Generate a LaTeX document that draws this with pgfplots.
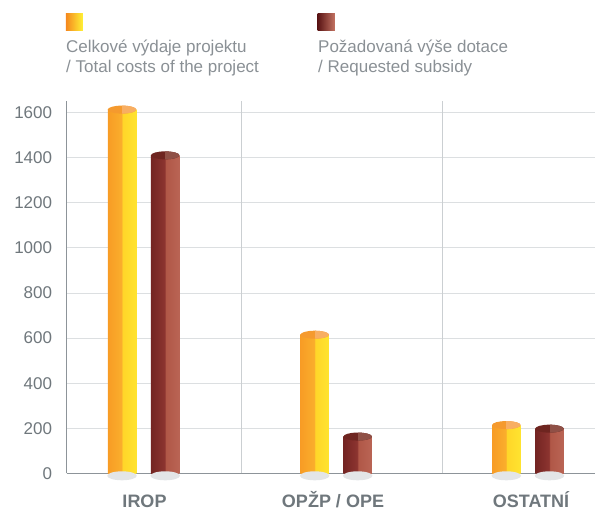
\documentclass[border=0pt]{standalone}
\usepackage{pgfplots}
\pgfplotsset{compat=1.18}
\usepackage{fontspec}
\setmainfont{Liberation Sans}

\definecolor{axisgray}{HTML}{8D9499}
\definecolor{gridgray}{HTML}{DCDFE1}
\definecolor{vgridgray}{HTML}{CBCFD2}
\definecolor{ticktext}{HTML}{6F777C}
\definecolor{legtext}{HTML}{8A9095}
\definecolor{orA}{HTML}{F5891E}
\definecolor{orB}{HTML}{FAAE2C}
\definecolor{orC}{HTML}{FFD629}
\definecolor{orD}{HTML}{FFF236}
\definecolor{mA}{HTML}{5A1414}
\definecolor{mB}{HTML}{8C3430}
\definecolor{mC}{HTML}{B05747}
\definecolor{mD}{HTML}{C47363}
\definecolor{topOL}{HTML}{F59A2E}
\definecolor{topOR}{HTML}{F8AE62}
\definecolor{topML}{HTML}{6E2520}
\definecolor{topMR}{HTML}{8F5046}
\definecolor{basegray}{HTML}{E3E5E7}

\pgfdeclarehorizontalshading{orcyl}{100bp}{color(0bp)=(orA); color(49bp)=(orB); color(51bp)=(orC); color(100bp)=(orD)}
\pgfdeclarehorizontalshading{mcyl}{100bp}{color(0bp)=(mA); color(49bp)=(mB); color(51bp)=(mC); color(100bp)=(mD)}

\pgfdeclareplotmark{toporange}{%
  \pgfpathellipse{\pgfpointorigin}{\pgfqpoint{14.25bp}{0pt}}{\pgfqpoint{0pt}{4bp}}%
  \pgfsetfillcolor{topOL}\pgfusepath{fill}%
  \begin{pgfscope}
    \pgfpathellipse{\pgfpointorigin}{\pgfqpoint{14.25bp}{0pt}}{\pgfqpoint{0pt}{4bp}}\pgfusepath{clip}%
    \pgfpathrectangle{\pgfqpoint{0pt}{-5bp}}{\pgfqpoint{16bp}{10bp}}%
    \pgfsetfillcolor{topOR}\pgfusepath{fill}%
  \end{pgfscope}}
\pgfdeclareplotmark{topmaroon}{%
  \pgfpathellipse{\pgfpointorigin}{\pgfqpoint{14.25bp}{0pt}}{\pgfqpoint{0pt}{4bp}}%
  \pgfsetfillcolor{topML}\pgfusepath{fill}%
  \begin{pgfscope}
    \pgfpathellipse{\pgfpointorigin}{\pgfqpoint{14.25bp}{0pt}}{\pgfqpoint{0pt}{4bp}}\pgfusepath{clip}%
    \pgfpathrectangle{\pgfqpoint{0pt}{-5bp}}{\pgfqpoint{16bp}{10bp}}%
    \pgfsetfillcolor{topMR}\pgfusepath{fill}%
  \end{pgfscope}}
\pgfdeclareplotmark{cylbase}{%
  \pgfpathellipse{\pgfqpoint{0pt}{-2.5bp}}{\pgfqpoint{14.75bp}{0pt}}{\pgfqpoint{0pt}{4.5bp}}%
  \pgfsetfillcolor{basegray}\pgfusepath{fill}}

\begin{document}
\begin{tikzpicture}
\begin{axis}[
  scale only axis,
  width=528.3bp, height=371.8bp,
  xmin=66.7, xmax=595, ymin=0, ymax=1650,
  clip=false,
  axis lines*=left,
  axis line style={draw=axisgray, line width=1.2bp},
  ytick={0,200,...,1600},
  ymajorgrids,
  grid style={draw=gridgray, line width=1bp},
  xtick={144.5,333,531},
  xticklabels={IROP, OPŽP / OPE, OSTATNÍ},
  major tick length=0pt,
  extra x ticks={241.3,442.3},
  extra x tick labels={},
  extra x tick style={grid=major, major grid style={draw=vgridgray, line width=0.8bp}},
  /pgf/number format/assume math mode=true,
  /pgf/number format/1000 sep={},
  yticklabel style={anchor=east, inner sep=0pt, xshift=-14.4bp, font=\fontsize{17bp}{20bp}\selectfont, text=ticktext},
  xticklabel style={anchor=base, inner sep=0pt, yshift=-34bp, font=\fontsize{18bp}{20bp}\selectfont\bfseries, text=ticktext},
  every axis plot/.append style={bar width=28.5bp, bar shift=0pt},
]
% base shadows
\addplot[only marks, mark=cylbase] coordinates {(122.0,0) (314.7,0) (506.3,0) (165.2,0) (357.7,0) (549.5,0)};
% Celkove vydaje projektu
\addplot[ybar, draw=none, shading=orcyl] coordinates {(122.0,1614)};
\addplot[ybar, draw=none, shading=orcyl] coordinates {(314.7,615)};
\addplot[ybar, draw=none, shading=orcyl] coordinates {(506.3,214)};
% Pozadovana vyse dotace
\addplot[ybar, draw=none, shading=mcyl] coordinates {(165.2,1411)};
\addplot[ybar, draw=none, shading=mcyl] coordinates {(357.7,163)};
\addplot[ybar, draw=none, shading=mcyl] coordinates {(549.5,198)};
% cylinder tops
\addplot[only marks, mark=toporange] coordinates {(122.0,1614) (314.7,615) (506.3,214)};
\addplot[only marks, mark=topmaroon] coordinates {(165.2,1411) (357.7,163) (549.5,198)};
\coordinate (O) at (axis cs:0,2100.4);
\end{axis}
\begin{scope}[shift={(O)}, x=1bp, y=-1bp]
  \shade[left color=orA, right color=orD] (66,14) rectangle (83,31);
  \shade[left color=mA, right color=mD] (317.7,14) rectangle (335,31);
  \node[anchor=base west, inner sep=0pt, text=legtext, font=\fontsize{17bp}{20bp}\selectfont] at (66,52.7) {Celkové výdaje projektu};
  \node[anchor=base west, inner sep=0pt, text=legtext, font=\fontsize{17bp}{20bp}\selectfont] at (66,72.7) {/ Total costs of the project};
  \node[anchor=base west, inner sep=0pt, text=legtext, font=\fontsize{17bp}{20bp}\selectfont] at (318,52.7) {Požadovaná výše dotace};
  \node[anchor=base west, inner sep=0pt, text=legtext, font=\fontsize{17bp}{20bp}\selectfont] at (318,72.7) {/ Requested subsidy};
\end{scope}
\pgfresetboundingbox
\path[use as bounding box] (O) rectangle ([xshift=595bp,yshift=-511bp]O);
\end{tikzpicture}
\end{document}
